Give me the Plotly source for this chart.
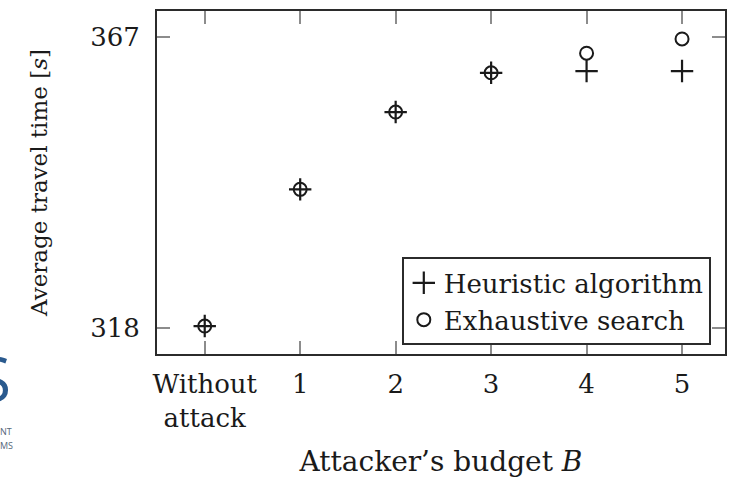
import plotly.graph_objects as go

# Attacker's budget categories and measured average travel times [s]
budget_labels = ["Without<br>attack", "1", "2", "3", "4", "5"]
budget_pos = [0, 1, 2, 3, 4, 5]
heuristic_time = [318.3, 341.3, 354.3, 360.9, 361.2, 361.2]
exhaustive_time = [318.3, 341.3, 354.3, 360.9, 364.2, 366.6]
y_ticks = [318, 367]

SERIF = "DejaVu Serif"
INK = "#1a1a1a"

fig = go.Figure()
fig.add_trace(go.Scatter(
    x=budget_pos, y=heuristic_time, mode="markers",
    name="Heuristic algorithm",
    marker=dict(symbol="cross-thin-open", size=16, color=INK,
                line=dict(color=INK, width=2.2)),
))
fig.add_trace(go.Scatter(
    x=budget_pos, y=exhaustive_time, mode="markers",
    name="Exhaustive search",
    marker=dict(symbol="circle-open", size=13, color=INK,
                line=dict(color=INK, width=2)),
))

axis_common = dict(
    showline=True, linewidth=2, linecolor="#2b2b2b", mirror="allticks",
    ticks="inside", ticklen=13, tickwidth=2, tickcolor="#8c8c8c",
    showgrid=False, zeroline=False,
    tickfont=dict(family=SERIF, size=26, color=INK),
)

fig.update_xaxes(
    **axis_common,
    range=[-0.5, 5.45],
    tickvals=budget_pos, ticktext=budget_labels,
    ticklabelstandoff=6,
    title=dict(text="Attacker\u2019s budget <i>B</i>",
               font=dict(family=SERIF, size=28, color=INK), standoff=20),
)
fig.update_yaxes(
    **axis_common,
    range=[313.6, 371.3],
    tickvals=y_ticks, ticktext=[str(v) for v in y_ticks],
    ticklabelstandoff=10,
    title=dict(text="Average travel time [<i>s</i>]",
               font=dict(family=SERIF, size=23, color=INK), standoff=36),
)

# Fragment of a slide logo at the left edge
fig.add_annotation(xref="paper", yref="paper", x=(12 - 157) / 570, y=(358 - 382) / 347.3,
                   xanchor="right", yanchor="middle", showarrow=False,
                   text="S", font=dict(family="Open Sans", size=62, color="#2a5a8e"))
fig.add_annotation(xref="paper", yref="paper", x=(-3 - 157) / 570, y=(358 - 436) / 347.3,
                   xanchor="left", yanchor="middle", showarrow=False,
                   text="NT", font=dict(family="Open Sans", size=9, color="#56677a"))
fig.add_annotation(xref="paper", yref="paper", x=(-3 - 157) / 570, y=(358 - 451) / 347.3,
                   xanchor="left", yanchor="middle", showarrow=False,
                   text="MS", font=dict(family="Open Sans", size=9, color="#56677a"))

fig.update_layout(
    width=732, height=478,
    margin=dict(l=157, r=5, t=11, b=120),
    paper_bgcolor="white", plot_bgcolor="white",
    showlegend=True,
    legend=dict(
        x=0.975, xanchor="right", y=0.025, yanchor="bottom",
        bgcolor="white", bordercolor="#2b2b2b", borderwidth=2,
        font=dict(family=SERIF, size=26, color=INK),
        itemwidth=30, tracegroupgap=0,
    ),
)

fig.write_html("out.html")
